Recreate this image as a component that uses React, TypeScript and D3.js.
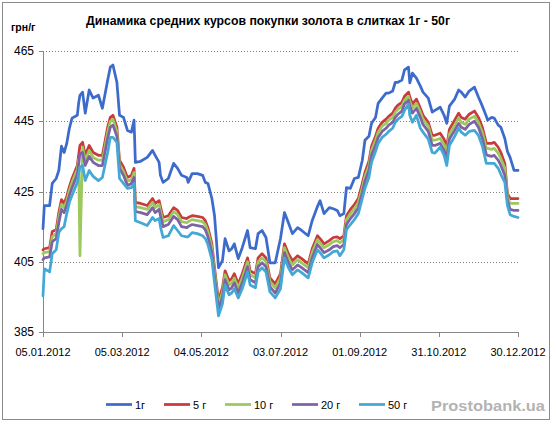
import React from "react";
import * as d3 from "d3";

const dates = [
  "2012-01-05","2012-01-06","2012-01-10","2012-01-12","2012-01-15","2012-01-17","2012-01-19","2012-01-21","2012-01-23","2012-01-25",
  "2012-01-27","2012-01-31","2012-02-01","2012-02-02","2012-02-04","2012-02-06","2012-02-09","2012-02-12","2012-02-16","2012-02-19",
  "2012-02-23","2012-02-25","2012-02-27","2012-03-01","2012-03-03","2012-03-06","2012-03-09","2012-03-12","2012-03-14","2012-03-15",
  "2012-03-19","2012-03-24","2012-03-28","2012-03-30","2012-04-02","2012-04-03","2012-04-05","2012-04-09","2012-04-13","2012-04-16",
  "2012-04-19","2012-04-23","2012-04-24","2012-04-27","2012-05-01","2012-05-05","2012-05-07","2012-05-09","2012-05-12","2012-05-14",
  "2012-05-17","2012-05-20","2012-05-22","2012-05-25","2012-05-27","2012-05-29","2012-06-01","2012-06-04","2012-06-08","2012-06-10",
  "2012-06-14","2012-06-16","2012-06-19","2012-06-22","2012-06-25","2012-06-29","2012-07-03","2012-07-06","2012-07-09","2012-07-12",
  "2012-07-16","2012-07-19","2012-07-24","2012-07-27","2012-07-31","2012-08-02","2012-08-05","2012-08-09","2012-08-12","2012-08-15",
  "2012-08-17","2012-08-20","2012-08-22","2012-08-25","2012-08-28","2012-08-31","2012-09-03","2012-09-05","2012-09-08","2012-09-10",
  "2012-09-13","2012-09-15","2012-09-18","2012-09-21","2012-09-23","2012-09-26","2012-09-28","2012-09-30","2012-10-03","2012-10-05",
  "2012-10-08","2012-10-09","2012-10-11","2012-10-14","2012-10-17","2012-10-19","2012-10-23","2012-10-26","2012-10-28","2012-11-01",
  "2012-11-04","2012-11-06","2012-11-08","2012-11-12","2012-11-15","2012-11-17","2012-11-20","2012-11-23","2012-11-27","2012-11-30",
  "2012-12-03","2012-12-06","2012-12-07","2012-12-10","2012-12-12","2012-12-15","2012-12-17","2012-12-20","2012-12-22","2012-12-24",
  "2012-12-27","2012-12-30",
];

const gold1g = [
  414.4,421.0,421.0,427.3,428.7,431.0,437.9,436.1,438.7,443.0,
  445.9,446.7,450.1,452.4,453.3,447.3,453.9,451.6,452.4,448.7,
  456.7,460.4,461.0,456.1,446.7,446.1,442.4,441.9,445.3,433.3,
  433.6,434.7,436.7,435.3,433.3,429.6,427.6,428.7,433.0,431.6,
  429.6,429.0,427.6,430.1,430.1,429.6,427.6,427.3,423.0,418.1,
  403.3,405.3,411.6,408.1,408.7,410.1,405.9,409.0,413.9,409.0,
  408.7,413.0,413.9,411.9,404.7,404.7,411.6,419.0,416.1,413.0,
  414.7,413.9,412.4,416.7,420.7,422.4,418.7,420.4,420.1,419.6,
  418.1,418.7,426.1,425.9,428.7,429.0,433.9,439.6,440.7,444.4,
  446.1,450.1,451.6,453.0,453.0,453.6,456.1,456.1,456.7,459.6,
  460.4,455.9,458.7,457.3,455.0,453.3,451.6,447.6,448.1,449.0,
  446.7,444.4,449.3,451.3,453.9,453.3,451.9,453.6,454.7,451.9,
  449.3,446.4,445.3,446.1,445.9,443.9,443.3,440.1,436.4,434.7,
  431.0,431.0,
];

const gold5g = [
  408.4,408.7,409.0,413.6,414.1,419.0,422.7,421.6,423.6,426.4,
  428.7,432.4,435.3,438.1,439.0,435.3,438.1,436.1,435.3,435.3,
  443.3,446.1,446.7,443.3,433.9,431.9,429.0,429.6,431.6,421.9,
  421.6,421.0,423.0,421.6,422.4,420.7,417.6,418.1,420.4,419.6,
  417.6,417.3,417.6,418.1,417.9,417.6,416.7,414.7,410.1,403.3,
  393.9,397.6,402.4,399.6,400.1,401.6,398.7,401.6,406.1,402.4,
  401.6,406.1,407.3,406.1,400.4,398.7,401.6,410.1,407.3,405.3,
  406.7,405.9,404.4,408.7,412.4,411.6,410.1,411.0,411.9,412.1,
  411.6,412.4,418.1,419.9,421.3,423.0,427.3,430.4,433.6,437.9,
  440.7,443.0,444.7,445.6,446.4,447.3,448.7,449.6,450.4,452.1,
  453.3,451.9,449.9,451.3,448.7,446.7,444.7,441.0,441.0,441.6,
  439.9,437.6,442.7,445.3,447.3,446.1,445.6,447.0,447.9,446.1,
  443.3,438.7,438.7,438.7,439.0,437.6,436.1,433.0,424.4,423.0,
  423.0,423.0,
];

const gold10g = [
  407.3,407.6,407.9,412.1,413.0,417.6,421.3,420.4,422.4,425.3,
  427.6,431.3,434.1,406.7,437.6,433.9,436.7,434.7,433.9,433.9,
  441.9,445.0,445.6,442.1,432.7,430.7,427.9,428.4,430.4,420.7,
  420.4,419.9,421.9,420.4,421.3,419.6,416.4,417.0,419.3,418.4,
  416.4,416.1,416.4,417.0,416.7,416.4,415.6,413.6,409.0,402.1,
  392.7,396.4,401.3,398.4,399.0,400.4,397.6,400.4,405.0,401.3,
  400.4,405.0,406.1,405.0,399.3,397.6,400.4,409.0,406.1,404.1,
  405.6,404.7,403.3,407.6,411.3,410.4,409.0,409.9,410.7,411.0,
  410.4,411.3,417.0,418.7,420.1,421.9,426.1,429.3,432.4,436.7,
  439.6,441.9,443.6,444.4,445.3,446.1,447.6,448.4,449.3,451.0,
  452.1,450.7,448.7,450.1,447.6,445.6,443.6,439.6,439.6,440.1,
  438.4,436.1,441.3,443.9,445.9,444.7,444.1,445.6,446.4,444.7,
  441.9,437.3,437.3,437.0,437.3,435.9,434.4,431.6,423.6,421.6,
  421.6,421.6,
];

const gold20g = [
  405.6,406.1,406.4,410.7,411.6,416.1,419.9,419.0,421.0,423.9,
  426.1,429.9,432.7,435.9,436.1,432.4,435.0,433.3,432.4,432.4,
  440.1,443.3,443.9,440.7,431.6,429.6,426.7,427.3,429.0,419.3,
  419.0,418.4,420.4,419.0,419.9,418.1,415.0,415.6,417.9,417.0,
  415.0,414.7,415.0,415.6,415.3,415.0,414.1,412.1,407.6,400.7,
  391.6,395.0,399.9,397.0,397.6,399.0,396.1,399.0,403.6,399.9,
  399.0,403.6,404.7,403.6,397.9,396.1,399.0,407.6,404.7,402.7,
  404.1,403.3,401.9,406.1,409.9,409.0,407.6,408.4,409.3,409.6,
  409.0,409.9,415.6,417.3,418.7,420.4,424.7,427.9,431.0,435.3,
  438.1,440.4,442.1,443.0,443.9,444.7,446.1,447.0,447.9,449.9,
  451.0,449.3,447.3,448.7,446.1,444.1,442.1,438.1,438.1,438.7,
  436.7,434.4,439.9,442.4,444.4,443.3,442.7,444.1,445.0,443.3,
  440.1,435.6,435.3,435.0,435.3,433.9,432.4,429.6,422.4,419.9,
  419.6,419.6,
];

const gold50g = [
  395.3,403.0,402.1,407.3,408.4,413.3,414.4,415.0,418.7,421.9,
  423.9,427.6,429.9,431.9,432.4,428.1,431.0,429.3,428.1,429.0,
  436.1,440.4,440.4,439.0,428.7,427.3,425.9,426.1,427.3,416.7,
  416.1,415.3,417.6,416.7,417.3,415.0,411.9,412.4,415.3,413.9,
  412.4,412.1,412.1,413.3,413.0,412.4,411.6,409.9,405.6,399.0,
  389.6,393.0,398.4,395.6,396.1,397.3,394.7,397.3,402.1,398.4,
  397.6,402.1,403.3,402.1,396.4,394.7,397.3,406.1,403.3,401.3,
  402.7,401.9,400.4,404.7,408.4,407.6,406.1,407.0,407.9,408.1,
  406.7,408.4,414.1,415.6,417.0,418.7,423.0,425.9,429.0,433.3,
  436.4,438.7,440.4,441.3,442.1,443.0,444.7,445.6,446.4,448.1,
  449.9,446.7,444.7,446.7,443.0,441.9,439.9,436.1,435.9,437.6,
  435.3,432.4,438.1,440.7,443.0,441.9,441.0,442.1,442.4,441.0,
  437.9,433.0,433.0,433.0,433.0,431.6,429.9,427.6,421.0,418.4,
  417.9,417.6,
];

const seriesNames = ["1г", "5 г", "10 г", "20 г", "50 г"];
const seriesValues = [gold1g, gold5g, gold10g, gold20g, gold50g];
const yTickValues = [385, 405, 425, 445, 465];
const xTickDates = ["2012-01-05", "2012-03-05", "2012-05-04", "2012-07-03", "2012-09-01", "2012-10-31", "2012-12-30"];
const titleText = "Динамика средних курсов покупки золота в слитках 1г - 50г";
const unitText = "грн/г";
const watermarkText = "Prostobank.ua";

const COLORS = ["#3D6BCB", "#C93A3C", "#9CC85C", "#7E63A4", "#44A8D6"];
const FONT = "'Liberation Sans', Arial, sans-serif";

export default function App() {
  const W = 556;
  const H = 424;
  const parse = d3.timeParse("%Y-%m-%d");
  const parsedDates = dates.map((d) => parse(d) as Date);
  const x = d3
    .scaleTime()
    .domain([parse("2012-01-05") as Date, parse("2012-12-30") as Date])
    .range([43, 518]);
  const y = d3.scaleLinear().domain([385, 465]).range([332, 51]);
  const fmt = d3.timeFormat("%d.%m.%Y");

  const line = d3
    .line<number>()
    .x((_, i) => x(parsedDates[i]))
    .y((v) => y(v));

  const legendX = [106, 164, 225, 292, 359];
  const legendY = 404.5;

  return (
    <div style={{ position: "fixed", left: 0, top: 0, width: W, height: H, background: "#fff" }}>
      <svg width={W} height={H} style={{ display: "block" }} fontFamily={FONT}>
        <rect x={0} y={0} width={W} height={H} fill="#fff" />
        <rect x={2.5} y={2.5} width={547} height={417} fill="#fff" stroke="#8a8a8a" strokeWidth={1} />

        <text
          x={268}
          y={25}
          textAnchor="middle"
          fontWeight="bold"
          fontSize={12.5}
          fill="#000"
          textLength={364}
          lengthAdjust="spacingAndGlyphs"
        >
          {titleText}
        </text>
        <text x={11} y={31} fontSize={10.5} fill="#000" fontWeight="bold">
          {unitText}
        </text>

        {yTickValues.filter((v) => v !== 385).map((v) => (
          <line
            key={"g" + v}
            x1={43}
            x2={518}
            y1={Math.round(y(v)) + 0.5}
            y2={Math.round(y(v)) + 0.5}
            stroke="#7f7f7f"
            strokeWidth={1}
            strokeDasharray="1,2"
          />
        ))}

        <line x1={43.5} x2={43.5} y1={51} y2={332} stroke="#868686" strokeWidth={1} />
        <line x1={43} x2={518.5} y1={332.5} y2={332.5} stroke="#868686" strokeWidth={1} />

        {yTickValues.map((v) => (
          <g key={"yt" + v}>
            <line x1={39} x2={43.5} y1={Math.round(y(v)) + 0.5} y2={Math.round(y(v)) + 0.5} stroke="#868686" />
            <text x={34} y={y(v) + 4} textAnchor="end" fontSize={12} fill="#000">
              {v}
            </text>
          </g>
        ))}

        {xTickDates.map((d) => {
          const dt = parse(d) as Date;
          const px = Math.round(x(dt)) + 0.5;
          return (
            <g key={"xt" + d}>
              <line x1={px} x2={px} y1={332} y2={337} stroke="#868686" />
              <text x={x(dt)} y={356} textAnchor="middle" fontSize={11} fill="#000">
                {fmt(dt)}
              </text>
            </g>
          );
        })}

        {seriesValues.map((vals, i) => (
          <path
            key={"s" + i}
            d={line(vals) || ""}
            fill="none"
            stroke={COLORS[i]}
            strokeWidth={2.75}
            strokeLinejoin="round"
            strokeLinecap="round"
          />
        ))}

        {seriesNames.map((n, i) => (
          <g key={"lg" + i}>
            <line
              x1={legendX[i]}
              x2={legendX[i] + 26}
              y1={legendY}
              y2={legendY}
              stroke={COLORS[i]}
              strokeWidth={2.75}
            />
            <text x={legendX[i] + 29} y={legendY + 4} fontSize={11} fill="#000">
              {n}
            </text>
          </g>
        ))}

        <text
          x={545}
          y={411}
          textAnchor="end"
          fontSize={15}
          fontWeight="bold"
          fill="#b3b3b3"
          textLength={114}
          lengthAdjust="spacingAndGlyphs"
        >
          {watermarkText}
        </text>
      </svg>
    </div>
  );
}
